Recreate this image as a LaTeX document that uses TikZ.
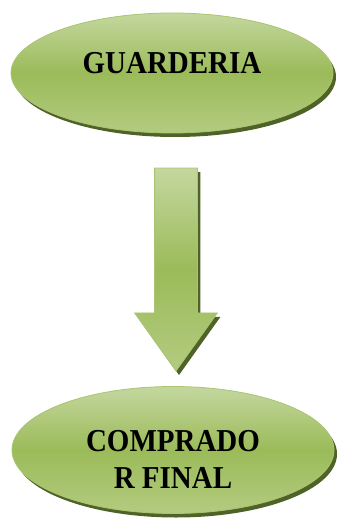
\documentclass[tikz,border=0pt]{standalone}
\usepackage{fontspec}
\setmainfont{Liberation Serif}
\usetikzlibrary{shapes.geometric,shapes.arrows,shadows}

\definecolor{verdeclaro}{HTML}{C4D79F}
\definecolor{verdemedio}{HTML}{9BBB59}
\definecolor{verdebajo}{HTML}{B3CB80}
\definecolor{verdeborde}{HTML}{A9C571}
\definecolor{verdesombra}{HTML}{4F6228}

\begin{document}
\begin{tikzpicture}[x = 1pt, y = -1pt,
                    sombra/.style = {drop shadow = {shadow xshift = 3pt, shadow yshift = -4pt,
                                     fill = verdesombra, opacity = 1}},
                    capsula/.style = {ellipse, draw = verdeborde, line width = 0.8pt,
                                      top color = verdeclaro, bottom color = verdebajo,
                                      middle color = verdemedio, sombra,
                                      minimum width = 322pt, inner sep = 0pt,
                                      font = \fontsize{29}{37}\selectfont\bfseries,
                                      align = center},
                    flechabox/.style = {single arrow, draw = verdeborde, line width = 0.8pt,
                                        top color = verdeclaro, bottom color = verdebajo,
                                        middle color = verdemedio, sombra,
                                        shape border rotate = 270,
                                        inner xsep = 21pt, inner ysep = 0pt,
                                        minimum width = 82pt, minimum height = 203pt,
                                        single arrow head extend = 20pt,
                                        single arrow tip angle = 71}]
  \useasboundingbox (0,0) rectangle (340,521);

  \node [capsula, minimum height = 120pt] (guarderia) at (172,73)
    {\raisebox{-1pt}[0pt][0pt]{\scalebox{1}[1.1]{GUARDERIA}}};
  \node [flechabox] (flecha) at (176,254.5) {};
  \node [capsula, minimum height = 127pt] (comprador) at (173,450)
    {\raisebox{-1.5pt}[0pt][0pt]{\parbox[t]{220pt}{\centering\scalebox{1}[1.1]{COMPRADO}\\\scalebox{1}[1.1]{R FINAL}}}};
\end{tikzpicture}
\end{document}
